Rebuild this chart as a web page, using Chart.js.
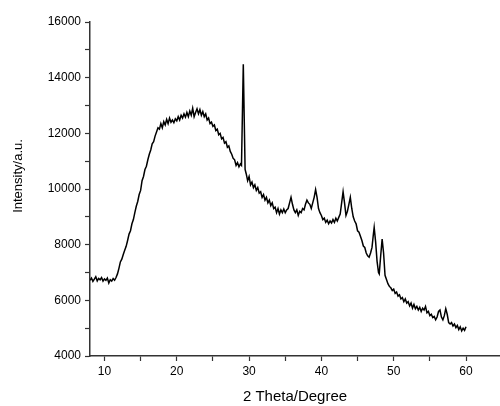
<!DOCTYPE html>
<html>
<head>
<meta charset="utf-8">
<script src="https://cdn.jsdelivr.net/npm/chart.js@4.4.0/dist/chart.umd.min.js"></script>
<style>
  html, body { margin: 0; padding: 0; background: #fff; }
  #wrap { width: 500px; height: 406px; }
</style>
</head>
<body>
<div id="wrap"><canvas id="xrd"></canvas></div>
<script>
// 2 theta (degree) positions
const twoTheta = [
  8.0, 8.2, 8.4, 8.6, 8.8, 9.0, 9.2, 9.4, 9.6, 9.8,
  10.0, 10.2, 10.4, 10.6, 10.8, 11.0, 11.2, 11.4, 11.6, 11.8,
  12.0, 12.2, 12.4, 12.6, 12.8, 13.0, 13.2, 13.4, 13.6, 13.8,
  14.0, 14.2, 14.4, 14.6, 14.8, 15.0, 15.2, 15.4, 15.6, 15.8,
  16.0, 16.2, 16.4, 16.6, 16.8, 17.0, 17.2, 17.4, 17.6, 17.8,
  18.0, 18.2, 18.4, 18.6, 18.8, 19.0, 19.2, 19.4, 19.6, 19.8,
  20.0, 20.2, 20.4, 20.6, 20.8, 21.0, 21.2, 21.4, 21.6, 21.8,
  22.0, 22.2, 22.4, 22.6, 22.8, 23.0, 23.2, 23.4, 23.6, 23.8,
  24.0, 24.2, 24.4, 24.6, 24.8, 25.0, 25.2, 25.4, 25.6, 25.8,
  26.0, 26.2, 26.4, 26.6, 26.8, 27.0, 27.2, 27.4, 27.6, 27.8,
  28.0, 28.2, 28.4, 28.6, 28.8, 28.95, 29.2, 29.45,
  29.6, 29.8, 30.0, 30.2, 30.4, 30.6, 30.8, 31.0,
  31.2, 31.4, 31.6, 31.8, 32.0, 32.2, 32.4, 32.6, 32.8, 33.0,
  33.2, 33.4, 33.6, 33.8, 34.0, 34.2, 34.4, 34.6, 34.8, 35.0,
  35.2, 35.4, 35.6, 35.8, 36.0, 36.2, 36.4, 36.6, 36.8, 37.0,
  37.2, 37.4, 37.6, 37.8, 38.0, 38.2, 38.4, 38.6, 38.8, 39.0,
  39.2, 39.4, 39.6, 39.8, 40.0, 40.2, 40.4, 40.6, 40.8, 41.0,
  41.2, 41.4, 41.6, 41.8, 42.0, 42.2, 42.4, 42.6, 42.8, 43.0,
  43.2, 43.4, 43.6, 43.8, 44.0, 44.2, 44.4, 44.6, 44.8, 45.0,
  45.2, 45.4, 45.6, 45.8, 46.0, 46.2, 46.4, 46.6, 46.8, 47.0,
  47.2, 47.3, 47.5, 47.7, 47.9, 48.0, 48.2, 48.4, 48.6, 48.8,
  49.0, 49.2, 49.4, 49.6, 49.8, 50.0, 50.2, 50.4, 50.6, 50.8,
  51.0, 51.2, 51.4, 51.6, 51.8, 52.0, 52.2, 52.4, 52.6, 52.8,
  53.0, 53.2, 53.4, 53.6, 53.8, 54.0, 54.2, 54.4, 54.6, 54.8,
  55.0, 55.2, 55.4, 55.6, 55.8, 56.0, 56.2, 56.4, 56.6, 56.8,
  57.0, 57.2, 57.4, 57.6, 57.8, 58.0, 58.2, 58.4, 58.6, 58.8,
  59.0, 59.2, 59.4, 59.6, 59.8, 60.0
];

// intensity (a.u.) at each position
const intensity = [
  6720, 6800, 6680, 6760, 6850, 6700, 6790, 6740, 6820, 6690,
  6770, 6720, 6800, 6620, 6740, 6690, 6780, 6720, 6820, 6950,
  7150, 7380, 7480, 7650, 7800, 7940, 8150, 8380, 8500, 8750,
  8900, 9150, 9380, 9550, 9800, 9950, 10300, 10450, 10700, 10820,
  11050, 11250, 11400, 11620, 11700, 11900, 12050, 12200, 12150, 12350,
  12200, 12420, 12300, 12500, 12350, 12550, 12400, 12480, 12380, 12520,
  12450, 12600, 12480, 12650, 12550, 12700, 12580, 12750, 12600, 12800,
  12650, 12900, 12600, 12750, 12880, 12700, 12850, 12650, 12780, 12600,
  12700, 12480, 12550, 12350, 12400, 12250, 12300, 12100, 12150, 11950,
  12000, 11800, 11850, 11650, 11700, 11500, 11550, 11350, 11250, 11100,
  11050, 10850, 10950, 10800, 10900, 10850, 14480, 10700,
  10550, 10300, 10450, 10150, 10250, 10050, 10150, 9950,
  10050, 9850, 9900, 9700, 9800, 9600, 9700, 9500, 9600, 9400,
  9500, 9300, 9350, 9150, 9300, 9100, 9250, 9150, 9280, 9150,
  9250, 9300, 9500, 9700, 9450, 9250, 9150, 9250, 9050, 9200,
  9150, 9300, 9250, 9450, 9600, 9500, 9450, 9300, 9500, 9700,
  9980, 9700, 9300, 9150, 9050, 8900, 8950, 8800, 8880, 8750,
  8850, 8780, 8900, 8800, 8950, 8850, 8980, 9100, 9500, 9900,
  9500, 9050, 9200, 9450, 9700, 9300, 9000, 8850, 8750, 8500,
  8450, 8300, 8150, 7950, 7900, 7700, 7600, 7550, 7700, 7900,
  8400, 8620, 8100, 7400, 7000, 6950, 7600, 8200, 7700, 6900,
  6750, 6600, 6500, 6450, 6350, 6400, 6250, 6300, 6150, 6200,
  6050, 6100, 5950, 6050, 5900, 5950, 5800, 5900, 5720, 5850,
  5700, 5780, 5650, 5750, 5600, 5720, 5650, 5780, 5550, 5600,
  5450, 5500, 5380, 5420, 5300, 5400, 5600, 5650, 5400, 5300,
  5450, 5700, 5500, 5200, 5150, 5200, 5080, 5150, 5020, 5100,
  4950, 5050, 4900, 5000, 4920, 5050
];

// axis ticks (majors get labels, the rest are minor marks)
const xTicks = [10, 15, 20, 25, 30, 35, 40, 45, 50, 55, 60];
const xLabels = [10, 20, 30, 40, 50, 60];
const yTicks = [4000, 5000, 6000, 7000, 8000, 9000, 10000, 11000, 12000, 13000, 14000, 15000, 16000];
const yLabels = [4000, 6000, 8000, 10000, 12000, 14000, 16000];

const points = twoTheta.map((t, i) => ({ x: t, y: intensity[i] }));

Chart.defaults.font.family = "'Liberation Sans', Arial, sans-serif";
Chart.defaults.color = '#000';

// y title sits a bit above the axis middle in the original, so draw it by hand
const yTitle = {
    id: 'yTitle',
    afterDraw(chart) {
        const c = chart.ctx;
        c.save();
        c.translate(18, 176);
        c.rotate(-Math.PI / 2);
        c.font = "13px 'Liberation Sans', Arial, sans-serif";
        c.fillStyle = '#000';
        c.textAlign = 'center';
        c.textBaseline = 'middle';
        c.fillText('Intensity/a.u.', 0, 0);
        c.restore();
    }
};

const ctx = document.getElementById('xrd').getContext('2d');
const xrdChart = new Chart(ctx, {
    type: 'line',
    data: {
        datasets: [
            {
                label: 'XRD',
                data: points,
                borderColor: '#000',
                borderWidth: 1.5,
                pointRadius: 0,
                tension: 0,
                fill: false
            }
        ]
    },
    options: {
        responsive: true,
        maintainAspectRatio: false,
        animation: false,
        layout: { padding: { top: 22, right: 0, left: 0, bottom: 0 } },
        plugins: { legend: { display: false }, tooltip: { enabled: false } },
        scales: {
            x: {
                type: 'linear',
                min: 8,
                max: 64.7,
                afterBuildTicks: (scale) => { scale.ticks = xTicks.map(v => ({ value: v })); },
                afterFit: (scale) => { scale.height = 50; },
                border: { display: true, color: '#333', width: 1.5 },
                grid: { drawOnChartArea: false, tickLength: 5, color: '#333', tickWidth: 1.2 },
                ticks: {
                    autoSkip: false,
                    maxRotation: 0,
                    padding: 3,
                    font: { size: 12 },
                    callback: (v) => xLabels.includes(v) ? String(v) : ''
                },
                title: {
                    display: true,
                    text: '2 Theta/Degree',
                    font: { size: 15 },
                    padding: { top: 4, bottom: 0 }
                }
            },
            y: {
                min: 4000,
                max: 16000,
                afterBuildTicks: (scale) => { scale.ticks = yTicks.map(v => ({ value: v })); },
                afterFit: (scale) => { scale.width = 90; },
                border: { display: true, color: '#333', width: 1.5 },
                grid: { drawOnChartArea: false, tickLength: 5, color: '#333', tickWidth: 1.2 },
                ticks: {
                    autoSkip: false,
                    padding: 4,
                    font: { size: 12 },
                    callback: (v) => yLabels.includes(v) ? String(v) : ''
                }
            }
        }
    },
    plugins: [yTitle]
});
</script>
</body>
</html>
